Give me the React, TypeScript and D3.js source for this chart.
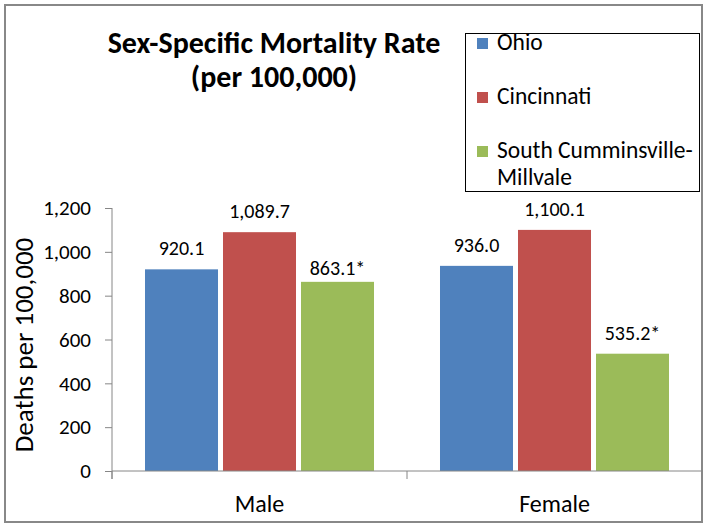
import * as d3 from "d3";
import React, { useEffect, useRef } from "react";

const categories = ["Male", "Female"];
const series = ["Ohio", "Cincinnati", "South Cumminsville-Millvale"];
const legendLines = [["Ohio"], ["Cincinnati"], ["South Cumminsville-", "Millvale"]];
const maleValues = [920.1, 1089.7, 863.1];
const femaleValues = [936.0, 1100.1, 535.2];
const maleStars = [false, false, true];
const femaleStars = [false, false, true];
const yTicks = [0, 200, 400, 600, 800, 1000, 1200];
const titleLines = ["Sex-Specific Mortality Rate", "(per 100,000)"];
const yTitle = "Deaths per 100,000";

const colors = ["#4F81BD", "#C0504D", "#9BBB59"];
const font = "Calibri, Carlito, Lato, sans-serif";
const axisColor = "#868686";

const W = 704;
const H = 525;
const plot = { left: 112, right: 702, top: 208, bottom: 471 };

const rows = categories.map((c, i) => ({
  category: c,
  values: i === 0 ? maleValues : femaleValues,
  stars: i === 0 ? maleStars : femaleStars,
}));

function YAxis({ y }) {
  const ref = useRef(null);
  useEffect(() => {
    const g = d3.select(ref.current);
    g.call(
      d3
        .axisLeft(y)
        .tickValues(yTicks)
        .tickSize(7)
        .tickPadding(14)
        .tickFormat(d3.format(","))
    );
    g.select(".domain").remove();
    g.selectAll(".tick line").attr("stroke", axisColor);
    g.selectAll(".tick text")
      .attr("font-family", font)
      .attr("font-size", 21)
      .attr("fill", "#000");
  }, [y]);
  return <g ref={ref} transform={`translate(${plot.left},0)`} />;
}

export default function App() {
  const y = d3.scaleLinear().domain([0, 1200]).range([plot.bottom, plot.top]);
  const x0 = d3.scaleBand().domain(categories).range([plot.left, plot.right]);
  const x1 = d3
    .scaleBand()
    .domain(series)
    .range([0, x0.bandwidth()])
    .paddingInner(0.064)
    .paddingOuter(0.423);
  const fmt = d3.format(",.1f");
  const bounds = [...categories.map((c) => x0(c)), plot.right];

  return (
    <svg
      width={W}
      height={H}
      style={{ position: "absolute", left: 0, top: 0, background: "#fff" }}
    >
      <rect x={5} y={5} width={697} height={517} fill="#fff" stroke="#888" strokeWidth={2} />

      {titleLines.map((t, i) => (
        <text
          key={t}
          x={274}
          y={53 + i * 34}
          textAnchor="middle"
          fontFamily={font}
          fontWeight="bold"
          fontSize={30}
          fill="#000"
        >
          {t}
        </text>
      ))}

      <rect x={465.5} y={33.5} width={234} height={158} fill="none" stroke="#000" strokeWidth={1} />
      {legendLines.map((lines, i) => (
        <g key={i} transform={`translate(477,${50 + i * 54})`}>
          <rect x={0} y={-12} width={11} height={11} fill={colors[i]} />
          {lines.map((l, j) => (
            <text key={l} x={20} y={j * 27} fontFamily={font} fontSize={23.5} fill="#000">
              {l}
            </text>
          ))}
        </g>
      ))}

      <text
        transform={`translate(33,345) rotate(-90)`}
        textAnchor="middle"
        fontFamily={font}
        fontSize={27}
        fill="#000"
      >
        {yTitle}
      </text>

      <YAxis y={y} />
      <line x1={plot.left} x2={plot.left} y1={plot.top} y2={plot.bottom + 8} stroke={axisColor} />

      {rows.map((r) => (
        <g key={r.category} transform={`translate(${x0(r.category)},0)`}>
          {r.values.map((v, i) => (
            <rect
              key={series[i]}
              x={x1(series[i])}
              y={y(v)}
              width={x1.bandwidth()}
              height={y(0) - y(v)}
              fill={colors[i]}
            />
          ))}
          {r.values.map((v, i) => (
            <text
              key={"l" + series[i]}
              x={x1(series[i]) + x1.bandwidth() / 2}
              y={y(v) - (r.category === "Male" && i === 2 ? 7 : 14)}
              textAnchor="middle"
              fontFamily={font}
              fontSize={20}
              fill="#000"
            >
              {fmt(v) + (r.stars[i] ? "*" : "")}
            </text>
          ))}
          <text
            x={x0.bandwidth() / 2}
            y={512}
            textAnchor="middle"
            fontFamily={font}
            fontSize={24}
            fill="#000"
          >
            {r.category}
          </text>
        </g>
      ))}

      <line x1={plot.left} x2={plot.right} y1={plot.bottom} y2={plot.bottom} stroke={axisColor} />
      {bounds.map((b) => (
        <line key={b} x1={b} x2={b} y1={plot.bottom} y2={plot.bottom + 8} stroke={axisColor} />
      ))}
    </svg>
  );
}
